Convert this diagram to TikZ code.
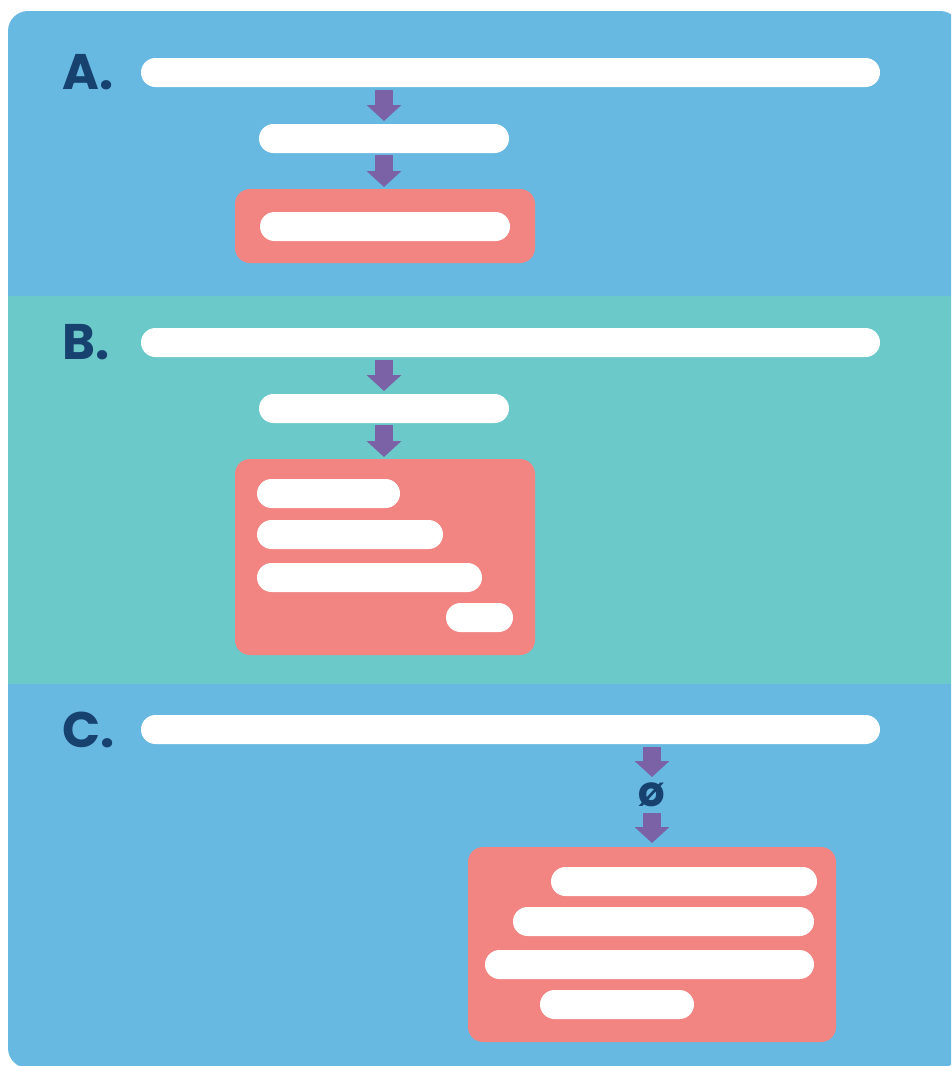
\documentclass[tikz,border=0pt]{standalone}
\usepackage{fontspec}
\setmainfont{Poppins}
\usetikzlibrary{arrows.meta}

\definecolor{panelblue}{HTML}{67B9E2}
\definecolor{panelteal}{HTML}{6CC9C9}
\definecolor{boxpink}{HTML}{F28482}
\definecolor{flowpurple}{HTML}{7B62A6}
\definecolor{labelnavy}{HTML}{17416F}

\tikzset{
  bar/.style={fill=white, draw=none, rounded corners=14.5pt, minimum height=29pt,
    inner sep=0pt, outer sep=0pt, anchor=north west},
  pinkbox/.style={fill=boxpink, draw=none, rounded corners=15pt, inner sep=0pt,
    outer sep=0pt, anchor=north west},
  flow/.style={draw=flowpurple, line width=18pt,
    -{Triangle[width=34pt,length=16pt]}},
  steplabel/.style={text=labelnavy, font=\fontsize{50}{50}\selectfont\bfseries,
    inner sep=0pt, anchor=base west},
}

\begin{document}
\begin{tikzpicture}[x=1pt, y=-1pt]
\useasboundingbox (0,0) rectangle (951,1066);

% panels
\begin{scope}
  \clip (0,0) rectangle (951,1066);
  \fill[panelblue, rounded corners=20pt] (8,11) rectangle (960,1068);
  \fill[panelteal] (8,296) rectangle (951,684);
\end{scope}

% ---------- A ----------
\node[steplabel] (la) at (62,89) {A.};
\node[bar, minimum width=739pt] (a1) at (141,58) {};
\node[bar, minimum width=250pt] (a2) at (259,124) {};
\node[pinkbox, minimum width=300pt, minimum height=74pt] (abox) at (235,189) {};
\node[bar, minimum width=250pt] (a3) at (260,212) {};
\draw[flow] ([yshift=-3pt]a1.south -| a2.north) -- ([yshift=3pt]a2.north);
\draw[flow] ([yshift=-2pt]a2.south) -- ([yshift=2pt]abox.north -| a2.south);

% ---------- B ----------
\node[steplabel] (lb) at (62,359) {B.};
\node[bar, minimum width=739pt] (b1) at (141,328) {};
\node[bar, minimum width=250pt] (b2) at (259,394) {};
\node[pinkbox, minimum width=300pt, minimum height=196pt] (bbox) at (235,459) {};
\node[bar, minimum width=143pt] (b3) at (257,479) {};
\node[bar, minimum width=186pt] (b4) at (257,520) {};
\node[bar, minimum width=225pt] (b5) at (257,563) {};
\node[bar, minimum width=67pt] (b6) at (446,603) {};
\draw[flow] ([yshift=-3pt]b1.south -| b2.north) -- ([yshift=3pt]b2.north);
\draw[flow] ([yshift=-2pt]b2.south) -- ([yshift=2pt]bbox.north -| b2.south);

% ---------- C ----------
\node[steplabel] (lc) at (62,747) {C.};
\node[bar, minimum width=739pt] (c1) at (141,715) {};
\node[pinkbox, minimum width=368pt, minimum height=195pt] (cbox) at (468,847) {};
\node[text=labelnavy, font=\fontsize{42}{42}\selectfont\bfseries, inner sep=0pt,
  anchor=base] (empty) at (652,806) {ø};
\node[bar, minimum width=266pt] (c2) at (551,867) {};
\node[bar, minimum width=301pt] (c3) at (513,907) {};
\node[bar, minimum width=329pt] (c4) at (485,950) {};
\node[bar, minimum width=154pt] (c5) at (540,990) {};
\draw[flow] ([yshift=-3pt]c1.south -| cbox.north) -- ([yshift=29pt]empty.base);
\draw[flow] ([yshift=-7pt]empty.base) -- ([yshift=4pt]cbox.north);
\end{tikzpicture}
\end{document}
